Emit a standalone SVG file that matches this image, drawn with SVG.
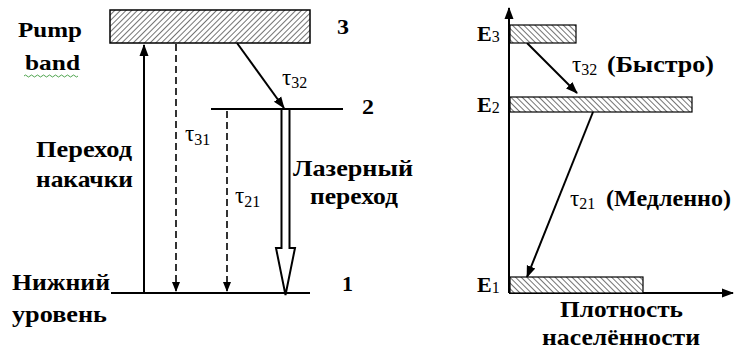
<svg xmlns="http://www.w3.org/2000/svg" width="734" height="351" viewBox="0 0 734 351">
<defs>
<pattern id="hatchF" patternUnits="userSpaceOnUse" width="4" height="4" patternTransform="rotate(45)">
<rect width="4" height="4" fill="#fff"/><line x1="0" y1="0" x2="0" y2="4" stroke="#000" stroke-width="1.1"/>
</pattern>
<pattern id="hatchB" patternUnits="userSpaceOnUse" width="4" height="4" patternTransform="rotate(-45)">
<rect width="4" height="4" fill="#fff"/><line x1="0" y1="0" x2="0" y2="4" stroke="#000" stroke-width="1.1"/>
</pattern>
<marker id="ah" markerWidth="10" markerHeight="10" refX="9" refY="5" orient="auto" markerUnits="userSpaceOnUse">
<path d="M0,1 L10,5 L0,9 Z" fill="#000"/>
</marker>
<marker id="ahs" markerWidth="12" markerHeight="12" refX="11" refY="6" orient="auto" markerUnits="userSpaceOnUse">
<path d="M0,1.5 L12,6 L0,10.5 Z" fill="#000"/>
</marker>
</defs>
<style>
text{font-family:'Liberation Serif','Times New Roman',serif;font-weight:bold;fill:#000;font-size:22px}
.cy{font-size:22.5px}
.sub{font-size:16px;font-weight:normal}
.tau{font-weight:normal;font-size:23px}
.ln{stroke:#000;stroke-width:2;fill:none}
.dash{stroke:#000;stroke-width:1.6;fill:none;stroke-dasharray:7,4}
</style>

<g id="pump-band">
<rect x="110" y="10" width="200" height="33" fill="url(#hatchF)" stroke="#000" stroke-width="1.5"/>
<text x="18" y="37" textLength="64" lengthAdjust="spacingAndGlyphs">Pump</text>
<text x="25" y="70" textLength="55" lengthAdjust="spacingAndGlyphs">band</text>
<path d="M24,76 q1.5,-2 3,0 t3,0 t3,0 t3,0 t3,0 t3,0 t3,0 t3,0 t3,0 t3,0 t3,0 t3,0 t3,0 t3,0 t3,0 t3,0 t3,0 t3,0" fill="none" stroke="#3c9a3c" stroke-width="0.9"/>
<text x="337" y="34" textLength="12" lengthAdjust="spacingAndGlyphs">3</text>
</g>
<g id="level2">
<line x1="211" y1="109" x2="343" y2="109" class="ln"/>
<text x="362" y="114" textLength="12" lengthAdjust="spacingAndGlyphs">2</text>
</g>
<g id="level1">
<line x1="111" y1="293" x2="310" y2="293" class="ln"/>
<text x="342" y="291" textLength="11" lengthAdjust="spacingAndGlyphs">1</text>
<text x="12" y="290" class="cy" textLength="98" lengthAdjust="spacingAndGlyphs">Нижний</text>
<text x="12" y="322" class="cy" textLength="95" lengthAdjust="spacingAndGlyphs">уровень</text>
</g>

<g id="connectors">
<line x1="144" y1="293" x2="144" y2="45" class="ln" marker-end="url(#ahs)"/>
<line x1="176" y1="44" x2="176" y2="291" class="dash" marker-end="url(#ah)"/>
<line x1="227" y1="111" x2="227" y2="291" class="dash" marker-end="url(#ah)"/>
<line x1="237" y1="43" x2="284" y2="108" class="ln" marker-end="url(#ahs)"/>
<path d="M281.5,110 V248 H276 L285.5,295 L295,248 H289.5 V110" fill="#fff" stroke="#000" stroke-width="2"/>
<line x1="509" y1="293" x2="509" y2="8" class="ln" marker-end="url(#ahs)"/>
<line x1="509" y1="293" x2="733" y2="293" class="ln" marker-end="url(#ahs)"/>
<line x1="527" y1="43" x2="577" y2="93" class="ln" marker-end="url(#ahs)"/>
<line x1="593" y1="112" x2="527" y2="277" class="ln" marker-end="url(#ahs)"/>
</g>

<g id="labels-left">
<text x="36" y="157" class="cy" textLength="96" lengthAdjust="spacingAndGlyphs">Переход</text>
<text x="36" y="187" class="cy" textLength="97" lengthAdjust="spacingAndGlyphs">накачки</text>
<text x="293" y="176" class="cy" textLength="120" lengthAdjust="spacingAndGlyphs">Лазерный</text>
<text x="310" y="204" class="cy" textLength="88" lengthAdjust="spacingAndGlyphs">переход</text>
<text x="282" y="85" class="tau">τ<tspan class="sub" dy="3">32</tspan></text>
<text x="185" y="141" class="tau">τ<tspan class="sub" dy="4">31</tspan></text>
<text x="235" y="203" class="tau">τ<tspan class="sub" dy="4">21</tspan></text>
</g>

<g id="E3">
<rect x="510" y="25" width="66" height="18" fill="url(#hatchB)" stroke="#000" stroke-width="1.2"/>
<text x="477" y="41">E<tspan class="sub" dy="1">3</tspan></text>
</g>
<g id="E2">
<rect x="510" y="97" width="182" height="15" fill="url(#hatchB)" stroke="#000" stroke-width="1.2"/>
<text x="477" y="112">E<tspan class="sub" dy="1">2</tspan></text>
</g>
<g id="E1">
<rect x="510" y="277" width="133" height="16" fill="url(#hatchB)" stroke="#000" stroke-width="1.2"/>
<text x="477" y="292">E<tspan class="sub" dy="1">1</tspan></text>
</g>
<g id="labels-right">
<text x="572" y="72" class="tau">τ<tspan class="sub" dy="3">32</tspan></text>
<text x="607" y="72" class="cy" textLength="107" lengthAdjust="spacingAndGlyphs">(Быстро)</text>
<text x="570" y="206" class="tau">τ<tspan class="sub" dy="3">21</tspan></text>
<text x="606" y="206" class="cy" textLength="125" lengthAdjust="spacingAndGlyphs">(Медленно)</text>
<text x="560" y="317" class="cy" textLength="123" lengthAdjust="spacingAndGlyphs">Плотность</text>
<text x="542" y="345" class="cy" textLength="158" lengthAdjust="spacingAndGlyphs">населённости</text>
</g>
</svg>
